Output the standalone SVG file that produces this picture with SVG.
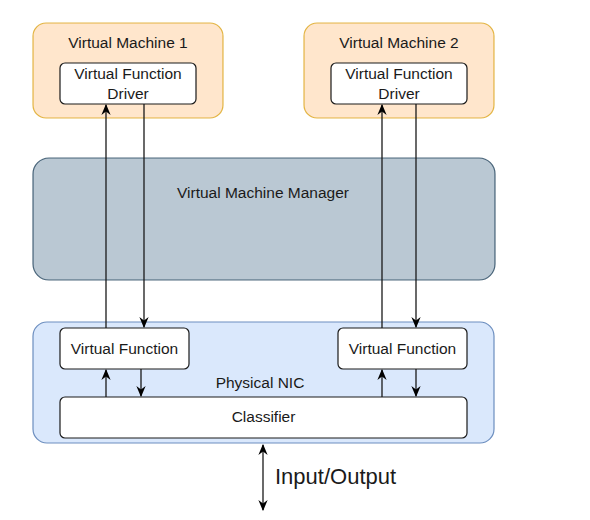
<svg xmlns="http://www.w3.org/2000/svg" width="590" height="520" viewBox="0 0 590 520">
<style>
text{font-family:"Liberation Sans",Arial,sans-serif;font-size:15.5px;fill:#1a1a1a;text-anchor:middle}
.vm{fill:#ffe6cc;stroke:#d79b00;stroke-width:1.2;stroke-opacity:0.7}
.box{fill:#ffffff;stroke:#1a1a1a;stroke-width:1.2}
.mgr{fill:#bac8d3;stroke:#23445d;stroke-width:1.2;stroke-opacity:0.8}
.nic{fill:#dae8fc;stroke:#6c8ebf;stroke-width:1.2}
.c{stroke:#1a1a1a;stroke-width:1.3;fill:none}
</style>
<defs>
<marker id="ah" viewBox="0 0 10 10" refX="9" refY="5" markerWidth="11" markerHeight="11" markerUnits="userSpaceOnUse" orient="auto-start-reverse">
<path d="M0,0.8 L10,5 L0,9.2 L3,5 Z" fill="#000"/>
</marker>
</defs>
<g id="vm1">
<rect class="vm" x="33" y="23" width="190" height="95" rx="13"/>
<text x="128" y="48">Virtual Machine 1</text>
</g>
<g id="vfd1">
<rect class="box" x="60" y="63" width="136" height="41" rx="5"/>
<text x="128" y="79">Virtual Function</text>
<text x="128" y="99">Driver</text>
</g>
<g id="vm2">
<rect class="vm" x="304" y="23" width="190" height="95" rx="13"/>
<text x="399" y="48">Virtual Machine 2</text>
</g>
<g id="vfd2">
<rect class="box" x="331" y="63" width="136" height="41" rx="5"/>
<text x="399" y="79">Virtual Function</text>
<text x="399" y="99">Driver</text>
</g>
<g id="manager">
<rect class="mgr" x="33" y="158" width="462" height="122" rx="16"/>
<text x="263" y="198">Virtual Machine Manager</text>
</g>
<g id="nic">
<rect class="nic" x="33" y="322" width="461" height="121" rx="14"/>
<text x="260" y="388">Physical NIC</text>
</g>
<g id="vf1">
<rect class="box" x="60" y="328" width="129" height="41" rx="5"/>
<text x="124.5" y="354">Virtual Function</text>
</g>
<g id="vf2">
<rect class="box" x="338" y="328" width="129" height="41" rx="5"/>
<text x="402.5" y="354">Virtual Function</text>
</g>
<g id="classifier">
<rect class="box" x="60" y="397" width="407" height="41" rx="5"/>
<text x="263.5" y="422">Classifier</text>
</g>
<g id="connectors">
<line class="c" x1="106" y1="328" x2="106" y2="105" marker-end="url(#ah)"/>
<line class="c" x1="144" y1="104" x2="144" y2="327" marker-end="url(#ah)"/>
<line class="c" x1="382" y1="328" x2="382" y2="105" marker-end="url(#ah)"/>
<line class="c" x1="416" y1="104" x2="416" y2="327" marker-end="url(#ah)"/>
<line class="c" x1="106" y1="397" x2="106" y2="370" marker-end="url(#ah)"/>
<line class="c" x1="141" y1="369" x2="141" y2="396" marker-end="url(#ah)"/>
<line class="c" x1="382" y1="397" x2="382" y2="370" marker-end="url(#ah)"/>
<line class="c" x1="416" y1="369" x2="416" y2="396" marker-end="url(#ah)"/>
<line class="c" x1="263" y1="445" x2="263" y2="510" marker-start="url(#ah)" marker-end="url(#ah)"/>
</g>
<text x="275" y="484" style="font-size:22px;text-anchor:start">Input/Output</text>
</svg>
